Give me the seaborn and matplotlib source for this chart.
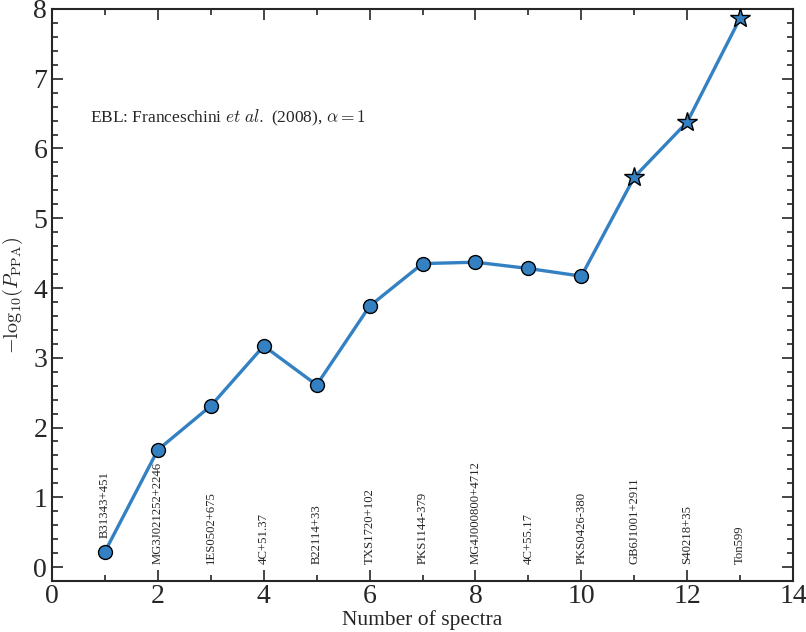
import numpy as np
import pandas as pd
import matplotlib
matplotlib.use("Agg")
import matplotlib.pyplot as plt
import seaborn as sns
from matplotlib.ticker import MultipleLocator

# Cumulative significance as spectra are added
n_spectra = [1, 2, 3, 4, 5, 6, 7, 8, 9, 10, 11, 12, 13]
neg_log_p = [0.22, 1.68, 2.31, 3.17, 2.61, 3.74, 4.35, 4.37, 4.28, 4.17, 5.59, 6.38, 7.87]
sources = ["B31343+451", "MG3J021252+2246", "1ES0502+675", "4C+51.37", "B22114+33",
           "TXS1720+102", "PKS1144-379", "MG4J000800+4712", "4C+55.17", "PKS0426-380",
           "GB6J1001+2911", "S40218+35", "Ton599"]
star_from = 11  # points from this index on are drawn as stars

df = pd.DataFrame({"n": n_spectra, "p": neg_log_p, "src": sources})

sns.set_style("ticks")
plt.rcParams["font.family"] = ["Liberation Serif", "DejaVu Serif"]
plt.rcParams["mathtext.fontset"] = "cm"

blue = "#3381c3"
fig = plt.figure(figsize=(8.06, 6.32), dpi=100)
ax = fig.add_axes([0.0645, 0.0807, 0.9195, 0.9051])

sns.lineplot(data=df, x="n", y="p", ax=ax, color=blue, linewidth=2.4, zorder=2)
circ = df[df["n"] < star_from]
star = df[df["n"] >= star_from]
ax.plot(circ["n"], circ["p"], "o", ms=10, mfc=blue, mec="black", mew=1.0, zorder=3)
ax.plot(star["n"], star["p"], "*", ms=15, mfc=blue, mec="black", mew=1.0, zorder=3)

# source names written vertically; lifted above the marker when it sits low
for xi, yi, name in zip(df["n"], df["p"], df["src"]):
    base = yi + 0.2 if yi < 1 else 0.04
    ax.text(xi, base, name, rotation=90, ha="center", va="bottom", fontsize=9.2)

ax.text(0.72, 6.44, r"EBL: Franceschini $et\ al.$ (2008), $\alpha = 1$",
        fontsize=12.5, va="center")

ax.set_xlim(0, 14)
ax.set_ylim(-0.2, 8)
ax.xaxis.set_major_locator(MultipleLocator(2))
ax.xaxis.set_minor_locator(MultipleLocator(1))
ax.yaxis.set_major_locator(MultipleLocator(1))
ax.yaxis.set_minor_locator(MultipleLocator(0.2))
ax.tick_params(which="both", direction="in", top=True, right=True, width=1.2)
ax.tick_params(which="major", length=8, labelsize=20)
ax.tick_params(axis="x", which="major", pad=2)
ax.tick_params(which="minor", length=4)
for s in ax.spines.values():
    s.set_linewidth(1.5)

ax.set_xlabel("Number of spectra", fontsize=15.5, labelpad=1)
ax.set_ylabel(r"$-\mathrm{log}_{10}(P_{\rm PPA})$", fontsize=14.5, labelpad=6)

fig.savefig("out.png", dpi=100)
